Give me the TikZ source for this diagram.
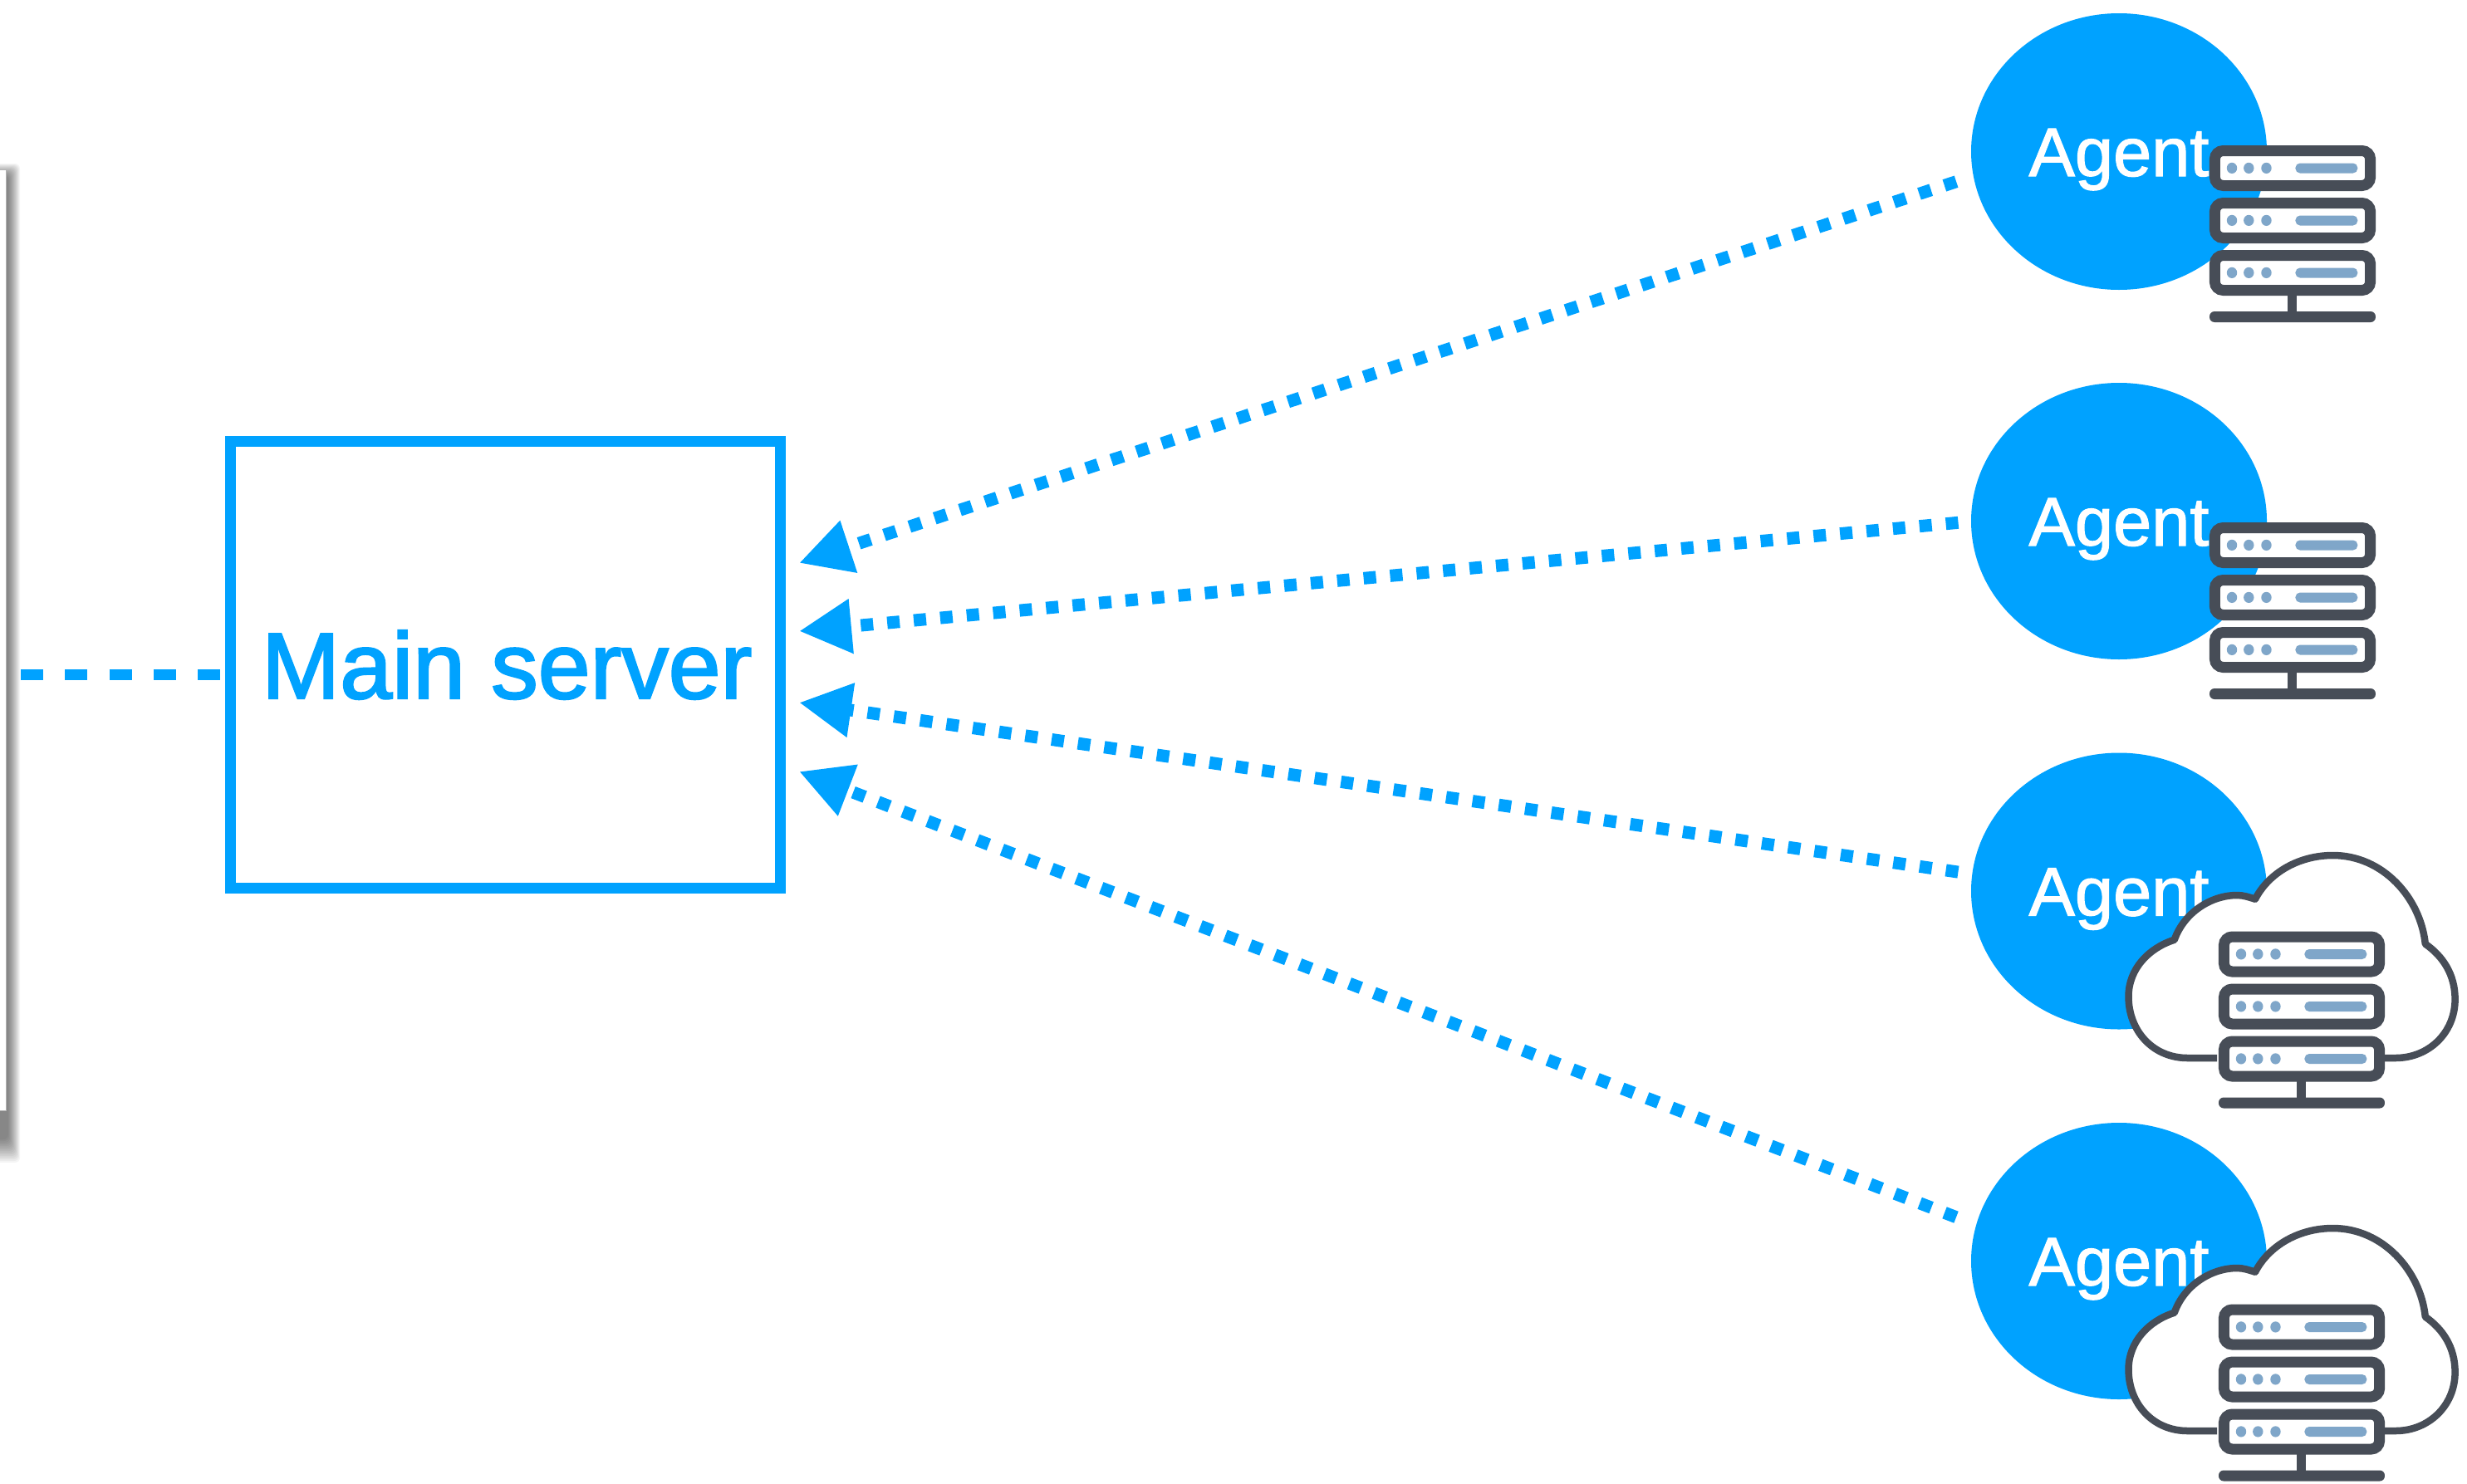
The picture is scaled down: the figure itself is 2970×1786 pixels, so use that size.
\documentclass[tikz,border=0pt]{standalone}
\usepackage{fontspec}
\setmainfont{Liberation Sans}
\newfontface\agentface{Liberation Sans}[FakeBold=1.4]
\newfontface\mainface{Liberation Sans}[FakeBold=2.1]
\usetikzlibrary{arrows.meta,shapes.geometric}
\definecolor{brand}{HTML}{00A2FF}
\definecolor{rackdark}{HTML}{474D57}
\definecolor{rackled}{HTML}{7FA6C9}
\tikzset{
  agentnode/.style={ellipse,fill=brand,text=white,inner sep=0pt,outer sep=0pt,
    minimum width=356pt,minimum height=333pt,text height=59pt,text depth=0pt,
    font=\agentface\fontsize{83}{90}\selectfont},
  mainnode/.style={rectangle,draw=brand,line width=13pt,fill=white,text=brand,inner sep=0pt,outer sep=0pt,
    minimum width=662pt,minimum height=538pt,text height=81pt,text depth=0pt,
    font=\mainface\fontsize{113}{120}\selectfont},
  dotlink/.style={brand,line width=15pt,dash pattern=on 15pt off 17pt,
    -{Triangle[length=63pt,width=62pt]}},
  dashlink/.style={brand,line width=13pt,dash pattern=on 27pt off 26.25pt},
  rackbox/.style={draw=rackdark,line width=13pt,fill=white,rounded corners=10pt},
  rackfill/.style={fill=rackdark},
  rackled/.style={fill=rackled},
  rack/.pic={
    \foreach \yy in {0,63,126}{
      \draw[rackbox] (6.5,\yy+6.5) rectangle (196.5,\yy+48.5);
      \foreach \xx in {27.4,48,69.5}{
        \fill[rackled] (\xx,\yy+27.4) ellipse [x radius=6.3pt,y radius=6.6pt];
      }
      \fill[rackled,rounded corners=5.5pt] (105,\yy+21.5) rectangle (181,\yy+33.5);
    }
    \fill[rackfill] (95,178) rectangle (107,202);
    \fill[rackfill,rounded corners=6pt] (0,200) rectangle (203,213);
  },
  cloudrack/.pic={
    \draw[draw=rackdark,fill=white,line width=8.5pt,line join=round]
      (0,152.5) -- (-35.5,152.5)
      .. controls (-77,152.5) and (-106.5,120) .. (-106.5,78.5)
      .. controls (-106.5,45) and (-82,20) .. (-51.3,10.2)
      .. controls (-40,-22) and (-8,-43.5) .. (24.3,-43.5)
      .. controls (32,-43.5) and (39,-41) .. (46,-38.8)
      .. controls (62,-70) and (98,-91.5) .. (139.5,-91.5)
      .. controls (200,-91.5) and (245,-40) .. (250.8,15.2)
      .. controls (272,30) and (286.6,52) .. (286.6,81.8)
      .. controls (286.6,122) and (255,152.5) .. (215,152.5)
      -- (201.5,152.5);
    \pic[xscale=0.985] at (2,0) {rack};
  }
}
\begin{document}
\begin{tikzpicture}[x=1pt,y=-1pt]
\useasboundingbox (0,0) rectangle (2970,1786);
\fill[white] (0,0) rectangle (2970,1786);

% cropped panel with its soft shadow
\begin{scope}
  \clip (0,150) rectangle (40,1450);
  \foreach \i in {0,...,14}{
    \fill[black,opacity=0.04,rounded corners=6pt] (-50,197+\i) rectangle (24-\i,1400-2*\i);
  }
  \fill[white,draw=gray!60,line width=1pt] (-10,204) rectangle (7,1337);
\end{scope}

% main server
\node[mainnode] (main) at (608.5,800.5) {\hspace*{3.5pt}Main server};
\coordinate (panelport) at (25,812);
\draw[dashlink] (panelport) -- (main.west |- panelport);

% agents
\node[agentnode] (agent1) at (2551,182.5) {Agent};
\node[agentnode] (agent2) at (2551,627.5) {Agent};
\node[agentnode] (agent3) at (2551,1073) {Agent};
\node[agentnode] (agent4) at (2551,1518.5) {Agent};

% connector ends
\coordinate (out1) at (2355.1,218.7);
\coordinate (out2) at (2357.5,629.3);
\coordinate (out3) at (2357.4,1050.1);
\coordinate (out4) at (2355,1465.7);
\coordinate (in1) at (962,678);
\coordinate (in2) at (962,760);
\coordinate (in3) at (962,846);
\coordinate (in4) at (962,929);
\draw[dotlink] (out1) -- (in1);
\draw[dotlink] (out2) -- (in2);
\draw[dotlink] (out3) -- (in3);
\draw[dotlink] (out4) -- (in4);

% icons
\pic[xscale=0.985] at (2660,175) {rack};
\pic[xscale=0.985] at (2660,629) {rack};
\pic at (2669,1121.5) {cloudrack};
\pic at (2669,1570.5) {cloudrack};
\end{tikzpicture}
\end{document}
